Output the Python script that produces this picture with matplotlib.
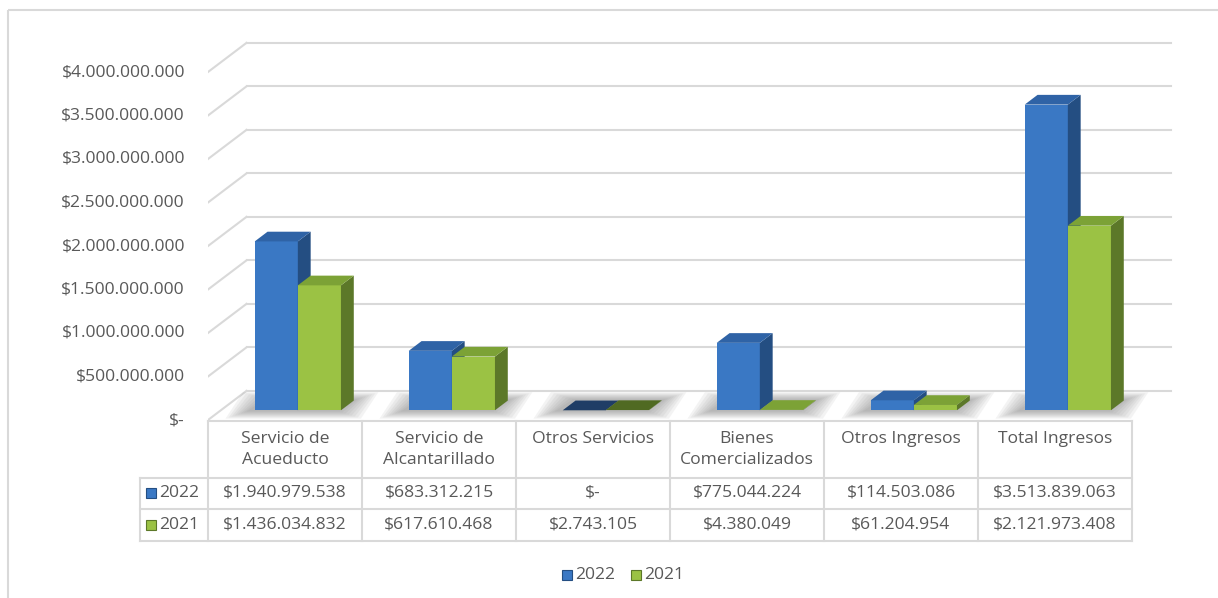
import matplotlib.pyplot as plt
from matplotlib.patches import Polygon, Rectangle

plt.rcParams['font.family'] = ['Open Sans', 'DejaVu Sans']

categories = ['Servicio de\nAcueducto', 'Servicio de\nAlcantarillado', 'Otros Servicios',
              'Bienes\nComercializados', 'Otros Ingresos', 'Total Ingresos']
series_names = ['2022', '2021']
values_2022 = [1940979538, 683312215, 0, 775044224, 114503086, 3513839063]
values_2021 = [1436034832, 617610468, 2743105, 4380049, 61204954, 2121973408]
y_ticks = [0, 500000000, 1000000000, 1500000000, 2000000000,
           2500000000, 3000000000, 3500000000, 4000000000]

W, H = 1218, 598
TXT = '#595959'
GRID = '#D9D9D9'
FS = 12.6
colors = {
    '2022': {'front': '#3A78C4', 'side': '#244E82', 'top': '#2F63A6', 'flat': '#1F3D66'},
    '2021': {'front': '#9BC244', 'side': '#5C7829', 'top': '#7CA236', 'flat': '#506A22'},
}


def money(v):
    if v == 0:
        return '$-'
    return '$' + f'{v:,}'.replace(',', '.')


fig = plt.figure(figsize=(W / 100, H / 100), dpi=100)

# overlay in pixel units for border, table, legend
ov = fig.add_axes([0, 0, 1, 1])
ov.set_xlim(0, W)
ov.set_ylim(H, 0)
ov.axis('off')
ov.add_patch(Rectangle((8, 10), W, H, fill=False, edgecolor=GRID, lw=1.5))

# pseudo 3D chart area: x in category units, y in value units
px_unit = 154.0
px_per_val = 87.0 / 1e9
x0_px, y0_px = 208, 420
xmax, ymax = 6.5, 4.5e9
ax = fig.add_axes([x0_px / W, (H - y0_px) / H, xmax * px_unit / W, ymax * px_per_val / H])
ax.set_xlim(0, xmax)
ax.set_ylim(0, ymax)
ax.axis('off')

n = len(categories)
ddx, ddy = 0.25, 0.335e9  # full depth offset

# back wall gridlines and side diagonals
for v in y_ticks:
    ax.plot([ddx, n + ddx], [v + ddy, v + ddy], color=GRID, lw=1.5, zorder=1)
    ax.plot([0, ddx], [v, v + ddy], color=GRID, lw=1.5, zorder=1)
    ax.text(-0.15, v, money(v), ha='right', va='center', fontsize=FS, color=TXT)

w = 0.28
bdx, bdy = ddx / 3, ddy / 3

# soft shadows on the floor
for i in range(n):
    c = i + 0.5 + bdx
    for k in range(8):
        mx = 0.02 * (k + 1)
        my = 0.012e9 * (k + 1)
        ax.add_patch(Polygon([(c - w - mx - 0.03, bdy - my), (c + w + mx - 0.03, bdy - my),
                              (c + w + bdx + mx, 2 * bdy + my), (c - w + bdx - mx, 2 * bdy + my)],
                             closed=True, facecolor='#6F6F6F', edgecolor='none',
                             alpha=0.08, zorder=2))

# bars
for i in range(n):
    c = i + 0.5 + bdx
    for j, (name, vals) in enumerate(zip(series_names, [values_2022, values_2021])):
        v = vals[i]
        col = colors[name]
        xl = c - w + j * w
        xr = xl + w
        base = bdy
        top = base + v
        top_col = col['flat'] if v < 0.0035e9 else col['top']
        ax.add_patch(Polygon([(xl, base), (xr, base), (xr, top), (xl, top)], closed=True,
                             facecolor=col['front'], edgecolor='none', zorder=3 + j))
        ax.add_patch(Polygon([(xr, base), (xr + bdx, base + bdy), (xr + bdx, top + bdy), (xr, top)],
                             closed=True, facecolor=col['side'], edgecolor='none', zorder=3 + j))
        ax.add_patch(Polygon([(xl, top), (xr, top), (xr + bdx, top + bdy), (xl + bdx, top + bdy)],
                             closed=True, facecolor=top_col, edgecolor='none', zorder=3 + j))

# data table
col_l = [208 + px_unit * i for i in range(n + 1)]
rows_y = [421, 478, 509, 541]
ov.plot([col_l[0], col_l[-1]], [rows_y[0], rows_y[0]], color=GRID, lw=1.5)
for y in rows_y[1:]:
    ov.plot([140, col_l[-1]], [y, y], color=GRID, lw=1.5)
ov.plot([140, 140], [rows_y[1], rows_y[-1]], color=GRID, lw=1.5)
for x in col_l:
    ov.plot([x, x], [rows_y[0], rows_y[-1]], color=GRID, lw=1.5)

for i, cat in enumerate(categories):
    cx = (col_l[i] + col_l[i + 1]) / 2
    ov.text(cx, 431, cat, ha='center', va='top', fontsize=FS, color=TXT, linespacing=1.38)
    ov.text(cx, 493, money(values_2022[i]), ha='center', va='center', fontsize=FS, color=TXT)
    ov.text(cx, 525, money(values_2021[i]), ha='center', va='center', fontsize=FS, color=TXT)

for name, yc in zip(series_names, [493, 525]):
    ov.add_patch(Rectangle((146, yc - 5), 10, 10, facecolor=colors[name]['front'],
                           edgecolor=colors[name]['side'], lw=0.8))
    ov.text(159, yc, name, ha='left', va='center', fontsize=FS, color=TXT)

# legend
for name, lx in zip(series_names, [562, 631]):
    ov.add_patch(Rectangle((lx, 570), 10, 10, facecolor=colors[name]['front'],
                           edgecolor=colors[name]['side'], lw=0.8))
    ov.text(lx + 13, 575, name, ha='left', va='center', fontsize=FS, color=TXT)

fig.savefig('out.png', dpi=100)
